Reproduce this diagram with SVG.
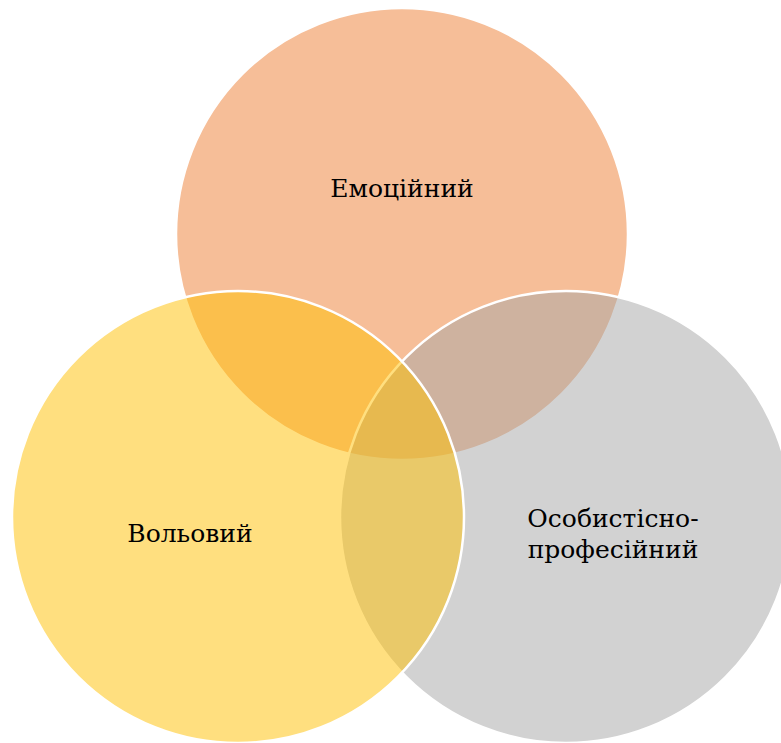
<svg xmlns="http://www.w3.org/2000/svg" width="781" height="743" viewBox="0 0 781 743">
<style>
.c{stroke:#FFFFFF;stroke-width:2.5}
.t{font-family:"DejaVu Serif","Liberation Serif",serif;font-size:25px;fill:#000000;text-anchor:middle}
</style>
<rect width="781" height="743" fill="#FFFFFF"/>
<g id="emotional">
<circle class="c" cx="402" cy="234" r="226" fill="#ED7D31" fill-opacity="0.5"/>
<text class="t" x="402" y="197">Емоційний</text>
</g>
<g id="personal">
<circle class="c" cx="566" cy="517" r="226" fill="#A5A5A5" fill-opacity="0.5"/>
<text class="t" x="613" y="527">Особистісно-</text>
<text class="t" x="613" y="558">професійний</text>
</g>
<g id="volitional">
<circle class="c" cx="238" cy="517" r="226" fill="#FFC000" fill-opacity="0.5"/>
<text class="t" x="190" y="542">Вольовий</text>
</g>
<g id="connectors"/>
</svg>
